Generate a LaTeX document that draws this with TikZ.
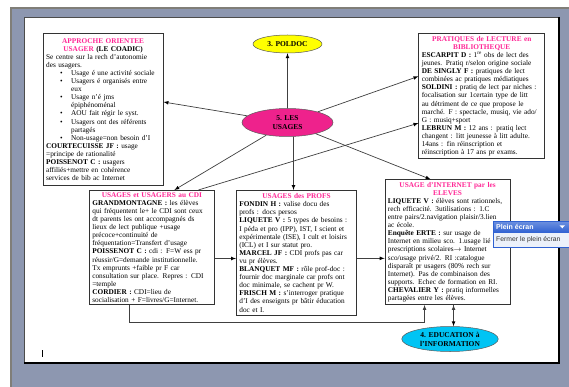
\documentclass[tikz,border=0pt]{standalone}
\usepackage{fontspec}
\setmainfont{Liberation Serif}
\newfontfamily\uifont{Liberation Sans}
\usepackage{tikz}
\usetikzlibrary{shapes.geometric, calc, arrows}
\definecolor{titlepink}{RGB}{255,40,150}
\definecolor{usagespink}{RGB}{238,34,140}
\definecolor{poldocyellow}{RGB}{255,255,0}
\definecolor{educcyan}{RGB}{0,196,244}
\definecolor{deskgray}{RGB}{141,151,176}
\definecolor{framegray}{RGB}{128,126,120}
\definecolor{uiblue}{RGB}{48,98,210}
\definecolor{uipale}{RGB}{236,241,250}
\newcommand{\boxtitle}[1]{{\centering\color{titlepink}\bfseries #1\par}}
\newcommand{\who}[1]{\textbf{#1}}
\newcommand{\itm}{\par\hangindent=25pt\hangafter=1\noindent\hspace*{14pt}\makebox[11pt][l]{\textbullet}}
\tikzset{
  notebox/.style={draw=black!80, line width=0.7pt, fill=white, anchor=north west,
    align=left, inner xsep=3pt, inner ysep=2pt, font=\fontsize{7.3}{8.1}\selectfont},
  bubble/.style={ellipse, draw=black!65, line width=0.5pt, inner sep=0pt,
    align=center, font=\bfseries\fontsize{7.5}{9}\selectfont},
  link/.style={draw=black!75, line width=0.7pt}
}
\begin{document}
\begin{tikzpicture}[x=1pt, y=-1pt, >=latex]
\useasboundingbox (0,0) rectangle (569,387);
\fill[white] (0,0) rectangle (569,387);
\fill[deskgray] (11,8) rectangle (569,387);
\draw[framegray, line width=1.2pt] (11,387) -- (11,8) -- (569,8);
\fill[white] (24,17) rectangle (558,361.5);
\draw[black!70, line width=0.6pt] (24,361.5) -- (24,17) -- (558,17);
\draw[black, line width=2pt] (558.5,17) -- (558.5,362.5) -- (24,362.5);
\draw[black, line width=1.2pt] (42.8,350) -- (42.8,357);
%
\node[notebox, text width=114pt, minimum height=151.7pt] (approche) at (42.8,33.3)
{\boxtitle{APPROCHE ORIENTEE\\USAGER {\color{black}(LE COADIC)}}
Se centre sur la rech d'autonomie\\des usagers.
\itm Usage é une activité sociale
\itm Usagers é organisés entre\newline eux
\itm Usage n'é jms\newline épiphénoménal
\itm AOU fait régir le syst.
\itm Usagers ont des référents\newline partagés
\itm Non-usage=non besoin d'I
\par\who{COURTECUISSE JF :} usage\\=principe de rationalité\\
\who{POISSENOT C :} usagers\\affiliés+mettre en cohérence\\services de bib ac Internet};
%
\node[notebox, text width=120pt, minimum height=125pt] (pratiques) at (418.4,33.3)
{\boxtitle{PRATIQUES de LECTURE en\\BIBLIOTHEQUE}
\who{ESCARPIT D :} 1\textsuperscript{re} obs de lect des\\jeunes. Pratiq r/selon origine sociale\\
\who{DE SINGLY F :} pratiques de lect\\combinées ac pratiques médiatiques\\
\who{SOLDINI :} pratiq de lect par niches :\\focalisation sur 1certain type de litt\\au détriment de ce que propose le\\marché. F : spectacle, musiq, vie ado/\\G : musiq+sport\\
\who{LEBRUN M :} 12 ans : pratiq lect\\changent : litt jeunesse à litt adulte.\\14ans : fin réinscription et\\réinscription à 17 ans pr exams.};
%
\node[notebox, text width=119pt, minimum height=114.3pt] (cdi) at (89,190)
{\boxtitle{USAGES et USAGERS au CDI}
\who{GRANDMONTAGNE :} les élèves\\qui fréquentent le+ le CDI sont ceux\\dt parents les ont accompagnés ds\\lieux de lect publique +usage\\précoce+continuité de\\fréquentation=Transfert d'usage\\
\who{POISSENOT C :} cdi : F=W ess pr\\réussir/G=demande institutionnelle.\\Tx emprunts +faible pr F car\\consultation sur place. Repres : CDI\\=temple\\
\who{CORDIER :} CDI=lieu de\\socialisation + F=livres/G=Internet.};
%
\node[notebox, text width=114.3pt, minimum height=125pt] (profs) at (236,190)
{\boxtitle{USAGES des PROFS}
\who{FONDIN H :} valise docu des\\profs : docs persos\\
\who{LIQUETE V :} 5 types de besoins :\\I péda et pro (IPP), IST, I scient et\\expérimentale (ISE), I cult et loisirs\\(ICL) et I sur statut pro.\\
\who{MARCEL JF :} CDI profs pas car\\vu pr élèves.\\
\who{BLANQUET MF :} rôle prof-doc :\\fournir doc marginale car profs ont\\doc minimale, se cachent pr W.\\
\who{FRISCH M :} s'interroger pratique\\d'I des enseignts pr bâtir éducation\\doc et I.};
%
\node[notebox, text width=119.2pt, minimum height=125pt] (internet) at (384.6,179.3)
{\boxtitle{USAGE d'INTERNET par les\\ELEVES}
\who{LIQUETE V :} élèves sont rationnels,\\rech efficacité. 3utilisations : 1.C\\entre pairs/2.navigation plaisir/3.lien\\ac école.\\
\who{Enquête ERTE :} sur usage de\\Internet en milieu sco. 1.usage lié\\prescriptions scolaires$\rightarrow$ Internet\\sco/usage privé/2. RI :catalogue\\disparaît pr usagers (80\% rech sur\\Internet). Pas de combinaison des\\supports. Echec de formation en RI.\\
\who{CHEVALIER Y :} pratiq informelles\\partagées entre les élèves.};
%
\node[bubble, fill=poldocyellow, minimum width=69pt, minimum height=18pt] (poldoc) at (287.5,44) {3. POLDOC};
\node[bubble, fill=usagespink, minimum width=91pt, minimum height=28pt] (usages) at (287.5,122.5) {5. LES\\USAGES};
\node[bubble, fill=educcyan, minimum width=96.5pt, minimum height=25pt] (education) at (450,339) {4. EDUCATION à\\l'INFORMATION};
%
\draw[->, link] (usages) edge (poldoc)
          (usages) edge ([yshift=7.5pt]approche.east)
          (usages) edge ([yshift=19.8pt]pratiques.west)
          (usages) edge ([xshift=22.5pt]cdi.north)
          ([xshift=6pt]usages.south) edge ([xshift=-3pt]profs.north)
          (usages) edge ([xshift=-17pt]internet.north)
          ([xshift=46.5pt]cdi.north) edge ([yshift=-27pt]pratiques.west)
          ([yshift=-11pt]cdi.east) edge ([yshift=-11pt]cdi.east -| profs.west)
          ([yshift=-5.5pt]profs.east) edge ([yshift=-5.5pt]profs.east -| internet.west)
          ([xshift=6pt]internet.south) edge ([xshift=6pt]internet.south |- education.north)
;
\draw[->, link] ([xshift=-23pt]cdi.south) -- ++(0,17.5) -| ([xshift=-23pt]internet.south);
%
\fill[top color=uiblue!70!white, bottom color=uiblue] (493,221) rectangle (569,232.5);
\fill[uipale] (493,232.5) rectangle (569,247.5);
\draw[uiblue, line width=0.8pt] (569.5,221) -- (493,221) -- (493,247.5) -- (569.5,247.5);
\node[anchor=west, inner sep=0pt, text=white, font=\uifont\bfseries\fontsize{7}{8}\selectfont] (plein) at (496,227) {Plein écran};
\fill[white] (559.5,225.3) -- (565,225.3) -- (562.25,228.3) -- cycle;
\node[anchor=west, inner sep=0pt, text=black!80, font=\uifont\fontsize{6.8}{8}\selectfont] (fermer) at (496,240) {Fermer le plein écran};
\end{tikzpicture}
\end{document}
